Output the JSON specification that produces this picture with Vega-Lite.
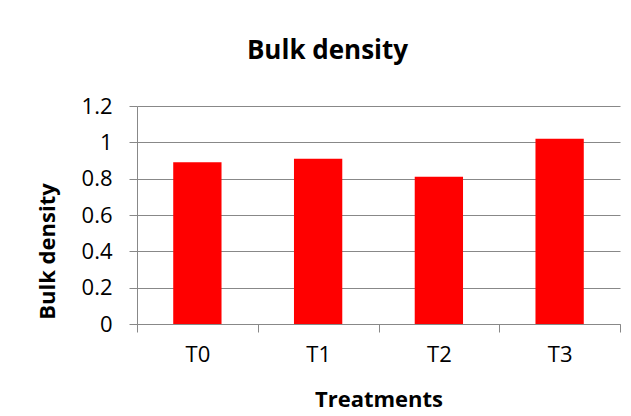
{
  "$schema": "https://vega.github.io/schema/vega-lite/v6.json",
  "width": 483,
  "height": 218,
  "autosize": {"type": "none"},
  "padding": {"left": 137, "top": 106, "right": 11, "bottom": 92},
  "background": "white",
  "title": {
    "text": "Bulk density",
    "font": "Open Sans",
    "fontSize": 26,
    "fontWeight": "bold",
    "color": "black",
    "anchor": "middle",
    "dx": -51,
    "offset": 31
  },
  "data": {
    "values": [
      {"treatment": "T0", "density": 0.89},
      {"treatment": "T1", "density": 0.91},
      {"treatment": "T2", "density": 0.81},
      {"treatment": "T3", "density": 1.02}
    ]
  },
  "mark": {"type": "bar", "color": "#FF0000", "width": {"band": 0.4}},
  "encoding": {
    "x": {
      "field": "treatment",
      "type": "nominal",
      "scale": {"paddingInner": 0, "paddingOuter": 0},
      "axis": {
        "title": "Treatments",
        "labelAngle": 0,
        "tickBand": "extent",
        "tickSize": 8,
        "labelPadding": 12,
        "titlePadding": 24,
        "grid": false
      }
    },
    "y": {
      "field": "density",
      "type": "quantitative",
      "scale": {"domain": [0, 1.2]},
      "axis": {
        "title": "Bulk density",
        "values": [0, 0.2, 0.4, 0.6, 0.8, 1, 1.2],
        "format": "~g",
        "tickSize": 8,
        "labelPadding": 17,
        "titleX": -90,
        "titleY": 145,
        "titleAlign": "center",
        "titleBaseline": "middle"
      }
    }
  },
  "config": {
    "view": {"stroke": null},
    "axis": {
      "labelFont": "Open Sans",
      "labelFontSize": 22,
      "labelColor": "black",
      "titleFont": "Open Sans",
      "titleFontSize": 22,
      "titleFontWeight": "bold",
      "titleColor": "black",
      "domainColor": "#888888",
      "tickColor": "#888888",
      "gridColor": "#888888",
      "domainWidth": 1,
      "tickWidth": 1,
      "gridWidth": 1
    }
  }
}
